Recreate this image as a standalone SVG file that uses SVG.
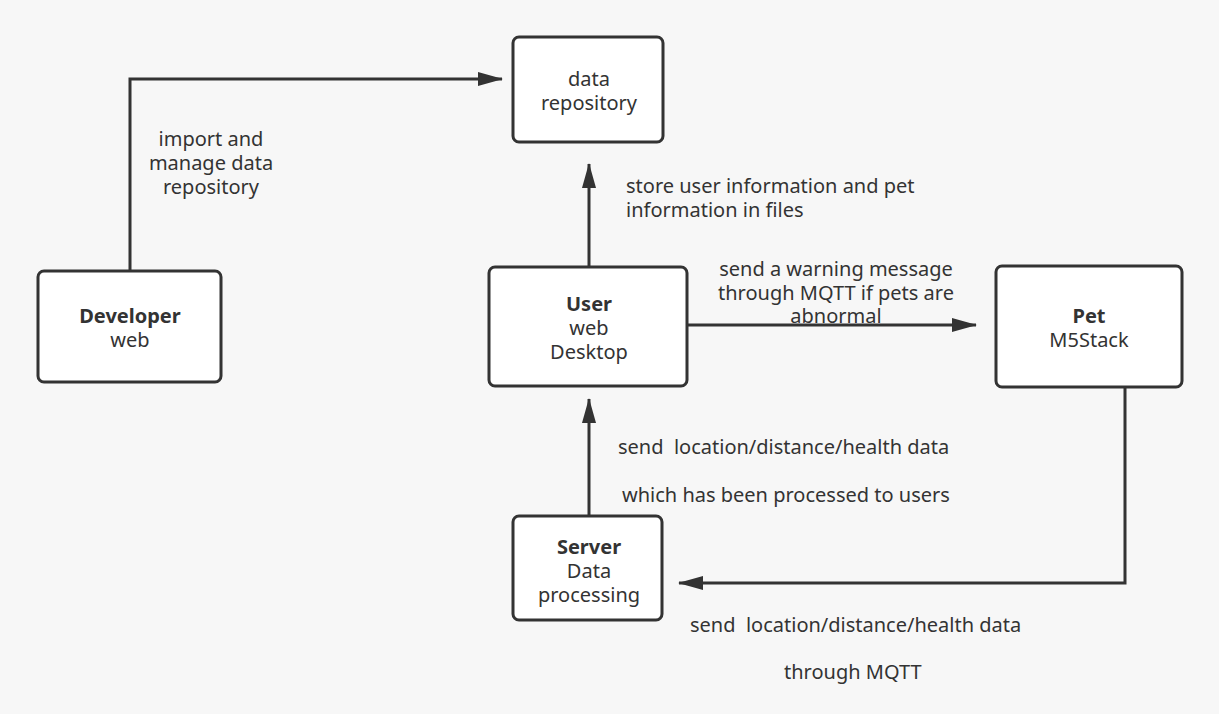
<svg xmlns="http://www.w3.org/2000/svg" width="1219" height="714" viewBox="0 0 1219 714">
<defs>
<style>
.node rect{fill:#fff;stroke:#333;stroke-width:3}
text{font-family:"Noto Sans","Open Sans",sans-serif;font-size:20px;fill:#333}
.c{text-anchor:middle}
.b{font-weight:bold}
.conn path{fill:none;stroke:#333;stroke-width:3}
</style>
<marker id="ah" markerWidth="25" markerHeight="14" refX="24" refY="7" orient="auto" markerUnits="userSpaceOnUse" viewBox="0 0 25 14">
<path d="M0,0 L25,7 L0,14 Z" fill="#333"/>
</marker>
</defs>
<rect width="1219" height="714" fill="#f7f7f7"/>
<g id="connectors" class="conn">
<path d="M130,271 V79 H502" marker-end="url(#ah)"/>
<path d="M589,267 V164" marker-end="url(#ah)"/>
<path d="M687,325 H976" marker-end="url(#ah)"/>
<path d="M1125,387 V583 H679" marker-end="url(#ah)"/>
<path d="M589,516 V399" marker-end="url(#ah)"/>
</g>
<g id="labels">
<text class="c" x="211" y="146">import and</text>
<text class="c" x="211" y="170">manage data</text>
<text class="c" x="211" y="194">repository</text>
<text x="626" y="193">store user information and pet</text>
<text x="626" y="217">information in files</text>
<text class="c" x="836" y="276">send a warning message</text>
<text class="c" x="836" y="300">through MQTT if pets are</text>
<text class="c" x="836" y="323">abnormal</text>
<text x="618" y="454" xml:space="preserve">send  location/distance/health data</text>
<text x="622" y="502">which has been processed to users</text>
<text x="690" y="632" xml:space="preserve">send  location/distance/health data</text>
<text x="784" y="679">through MQTT</text>
</g>
<g id="developer" class="node">
<rect x="38" y="271" width="183" height="111" rx="6"/>
<text class="c b" x="130" y="323">Developer</text>
<text class="c" x="130" y="347">web</text>
</g>
<g id="repository" class="node">
<rect x="513" y="37" width="150" height="105" rx="6"/>
<text class="c" x="589" y="86">data</text>
<text class="c" x="589" y="110">repository</text>
</g>
<g id="user" class="node">
<rect x="489" y="267" width="198" height="119" rx="6"/>
<text class="c b" x="589" y="311">User</text>
<text class="c" x="589" y="335">web</text>
<text class="c" x="589" y="359">Desktop</text>
</g>
<g id="pet" class="node">
<rect x="996" y="266" width="186" height="121" rx="6"/>
<text class="c b" x="1089" y="323">Pet</text>
<text class="c" x="1089" y="347">M5Stack</text>
</g>
<g id="server" class="node">
<rect x="513" y="516" width="149" height="104" rx="6"/>
<text class="c b" x="589" y="554">Server</text>
<text class="c" x="589" y="578">Data</text>
<text class="c" x="589" y="602">processing</text>
</g>
</svg>
